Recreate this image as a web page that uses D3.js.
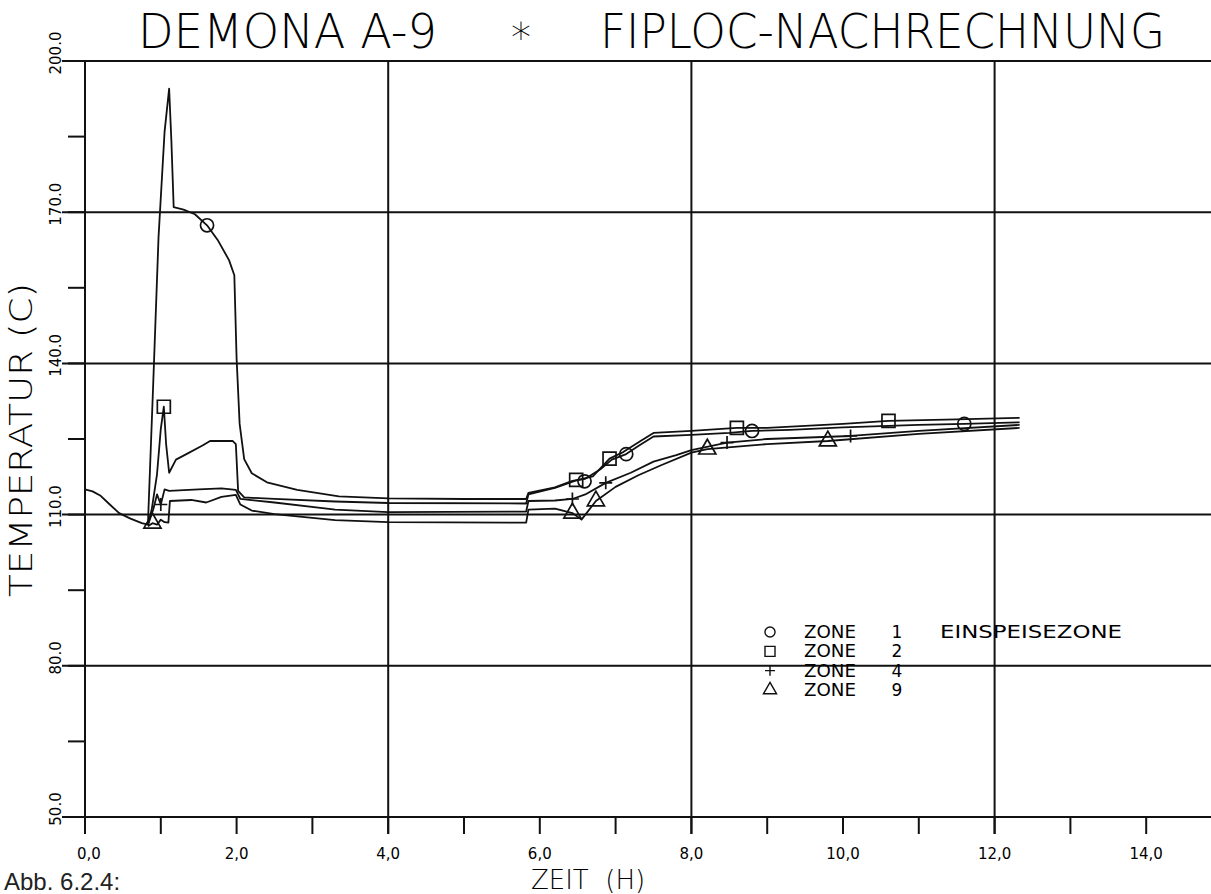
<!DOCTYPE html>
<html><head><meta charset="utf-8">
<script src="https://cdn.jsdelivr.net/npm/d3@7"></script>
<style>
html,body{margin:0;padding:0;background:#fff;}
svg{display:block;}
.plot{font-family:"DejaVu Sans",sans-serif;}
</style></head>
<body><svg id="chart" width="1211" height="894"></svg>
<script>
// ---------- data ----------
const title1 = "DEMONA A-9";
const title2 = "FIPLOC-NACHRECHNUNG";
const xLabel = "ZEIT  (H)";
const yLabel = "TEMPERATUR (C)";
const caption = "Abb. 6.2.4:";
const xTickValues = [0,1,2,3,4,5,6,7,8,9,10,11,12,13,14];
const xTickLabels = ["0,0","2,0","4,0","6,0","8,0","10,0","12,0","14,0"];
const xLabelValues = [0,2,4,6,8,10,12,14];
const xGridValues = [4,8,12];
const yTickValues = [50,65,80,95,110,125,140,155,170,185,200];
const yGridValues = [80,110,140,170,200];
const yLabelValues = [50,80,110,140,170,200];
const yTickLabels = ["50.0","80.0","110.0","140.0","170.0","200.0"];

const zone1 = [[0,115.0],[0.1,114.6],[0.2,113.8],[0.32,112.1],[0.45,110.3],[0.6,109.2],[0.75,108.3],[0.83,108.0],
 [0.9,136],[0.97,165],[1.05,186],[1.11,194.5],[1.14,184],[1.17,171],[1.3,170.5],[1.45,169.6],[1.61,167.4],
 [1.75,164.5],[1.9,160.5],[1.97,157.5],[2.0,141],[2.04,128],[2.1,121],[2.2,118.2],[2.4,116.4],[2.8,114.9],
 [3.35,113.6],[4.0,113.2],[5.0,113.1],[5.82,113.1],[5.85,114.3],[6.2,115.4],[6.43,116.7],[6.6,117.1],
 [6.8,119],[6.95,120.9],[7.14,122],[7.3,123.6],[7.5,125.5],[8.0,125.8],[8.5,126.2],[8.8,126.6],[9.3,126.8],
 [10.0,127.3],[11.0,127.8],[11.6,128.0],[12.33,128.3]];
const zone2 = [[0.83,108.0],[0.88,111],[0.95,118],[1.0,127],[1.04,131.4],[1.07,124],[1.11,118.3],[1.2,120.9],
 [1.35,122.1],[1.55,123.7],[1.65,124.6],[1.95,124.6],[1.99,124.0],[2.02,114.7],[2.1,113.4],[2.5,113.1],
 [3.3,112.6],[4.0,112.3],[5.82,112.2],[5.85,114.0],[6.2,115.3],[6.48,116.8],[6.7,117.6],[6.92,121.1],
 [7.1,122.4],[7.35,124.8],[7.5,126.2],[8.0,126.6],[8.6,127.2],[9.0,127.2],[9.5,127.6],[10.0,128.0],
 [10.6,128.6],[11.5,128.9],[12.33,129.2]];
const zone4 = [[0.83,107.9],[0.9,111],[0.95,114],[1.0,112],[1.05,115],[1.11,114.7],[1.5,115.0],[1.8,115.2],
 [1.99,114.9],[2.05,113.1],[2.5,112.4],[3.3,111.0],[4.0,110.5],[5.82,110.6],[5.85,112.7],[6.2,112.8],
 [6.43,113.1],[6.6,114.0],[6.87,116.3],[7.2,118.3],[7.5,120.5],[7.8,121.8],[8.0,122.8],[8.47,124.3],
 [9.0,125.0],[10.1,125.6],[11.0,126.6],[12.33,127.8]];
const zone9 = [[0.83,107.7],[0.89,108.3],[0.95,108.0],[1.0,109.0],[1.05,108.5],[1.1,108.4],[1.12,112.7],
 [1.4,112.9],[1.6,112.4],[1.8,113.5],[1.99,113.9],[2.05,112.0],[2.2,110.8],[2.5,110.1],[3.3,108.9],
 [4.0,108.5],[5.82,108.4],[5.85,111.0],[6.2,111.2],[6.43,110.3],[6.55,109.0],[6.74,112.7],[7.0,115.5],
 [7.3,117.8],[7.6,119.8],[8.0,122.3],[8.21,123.0],[9.0,124.0],[9.8,124.6],[11.0,126.0],[12.33,127.2]];

const zone1Markers = [[1.61,167.4],[6.59,116.6],[7.14,122.0],[8.8,126.6],[11.6,128.0]];
const zone2Markers = [[1.04,131.4],[6.48,116.9],[6.92,121.1],[8.6,127.2],[10.6,128.6]];
const zone4Markers = [[1.0,112],[6.43,113.1],[6.87,116.3],[8.47,124.3],[10.1,125.6]];
const zone9Markers = [[0.89,108.3],[6.43,110.3],[6.74,112.7],[8.21,123.0],[9.8,124.6]];

const legendSymbols = ["circle","square","plus","triangle"];
const legendZones = ["ZONE","ZONE","ZONE","ZONE"];
const legendNumbers = ["1","2","4","9"];
const legendNotes = ["EINSPEISEZONE","","",""];

// ---------- chart ----------
const svg = d3.select("#chart");
const W = 1211, H = 894;
const x = d3.scaleLinear().domain([0,15]).range([85, 85+15*75.8]);
const y = d3.scaleLinear().domain([50,200]).range([817, 61]);
const g = svg.append("g").attr("class","plot");
const ink = "#111";

// horizontal grid/frame lines
g.selectAll(".hgrid").data(yGridValues.concat([50])).join("line")
  .attr("x1", 62).attr("x2", W).attr("y1", d=>y(d)).attr("y2", d=>y(d))
  .attr("stroke", ink).attr("stroke-width", 2);
// minor y ticks
g.selectAll(".ytick").data(yTickValues).join("line")
  .attr("x1", x(0)-17).attr("x2", x(0)).attr("y1", d=>y(d)).attr("y2", d=>y(d))
  .attr("stroke", ink).attr("stroke-width", 2);
// y axis line
g.append("line").attr("x1", x(0)).attr("x2", x(0)).attr("y1", y(200)).attr("y2", y(50)+14)
  .attr("stroke", ink).attr("stroke-width", 2);
// vertical grid
g.selectAll(".vgrid").data(xGridValues).join("line")
  .attr("x1", d=>x(d)).attr("x2", d=>x(d)).attr("y1", y(200)).attr("y2", y(50)+17)
  .attr("stroke", ink).attr("stroke-width", 2);
// x ticks
g.selectAll(".xtick").data(xTickValues).join("line")
  .attr("x1", d=>x(d)).attr("x2", d=>x(d)).attr("y1", y(50)).attr("y2", y(50)+17)
  .attr("stroke", ink).attr("stroke-width", 2);

// x tick labels
g.selectAll(".xlab").data(xLabelValues).join("text")
  .attr("x", d=>x(d)+(d===0?4:0)).attr("y", 859)
  .attr("text-anchor","middle").attr("font-size", 15).attr("fill", "#000")
  .text((d,i)=>xTickLabels[i]);
// y tick labels (rotated)
g.selectAll(".ylab").data(yLabelValues).join("text")
  .attr("transform", d=>`translate(61,${y(d)-8}) rotate(-90)`)
  .attr("text-anchor","middle").attr("font-size", 15).attr("fill", "#000")
  .text((d,i)=>yTickLabels[i]);

// titles
g.append("text").attr("x",138).attr("y",48).attr("font-size",48).attr("font-weight",200).attr("fill","#000")
  .attr("textLength",299).attr("lengthAdjust","spacingAndGlyphs").text(title1);
g.append("text").attr("x",521).attr("y",52).attr("font-size",40).attr("font-weight",200).attr("fill","#000")
  .attr("text-anchor","middle").text("*");
g.append("text").attr("x",600).attr("y",48).attr("font-size",48).attr("font-weight",200).attr("fill","#000")
  .attr("textLength",565).attr("lengthAdjust","spacingAndGlyphs").text(title2);
g.append("text").attr("transform","translate(32,440) rotate(-90)").attr("text-anchor","middle")
  .attr("font-size",32).attr("font-weight",200).attr("fill","#000")
  .attr("textLength",314).attr("lengthAdjust","spacingAndGlyphs").text(yLabel);
g.append("text").attr("x",588).attr("y",889).attr("text-anchor","middle").attr("font-size",26)
  .attr("font-weight",200).attr("fill","#000").attr("xml:space","preserve").text(xLabel);
svg.append("text").attr("x",4).attr("y",890).attr("font-family","'Liberation Sans',Arial,sans-serif")
  .attr("font-size",24).attr("fill","#222").text(caption);

// lines
const line = d3.line().x(d=>x(d[0])).y(d=>y(d[1]));
const series = [zone1, zone2, zone4, zone9];
g.selectAll(".series").data(series).join("path")
  .attr("d", line).attr("fill","none").attr("stroke", ink).attr("stroke-width", 1.8)
  .attr("stroke-linejoin","round");

// markers
function symbolPath(type, s) {
  if (type==="circle") return d3.symbol(d3.symbolCircle, s*s*0.8)();
  if (type==="square") return d3.symbol(d3.symbolSquare, s*s)();
  if (type==="plus") return `M${-s/2},0H${s/2}M0,${-s/2}V${s/2}`;
  return d3.symbol(d3.symbolTriangle, s*s*0.75)();
}
const markerSets = [zone1Markers, zone2Markers, zone4Markers, zone9Markers];
markerSets.forEach((set, i) => {
  g.selectAll(".m"+i).data(set).join("path")
    .attr("transform", d=>`translate(${x(d[0])},${y(d[1])})`)
    .attr("d", symbolPath(legendSymbols[i], 13))
    .attr("fill","none").attr("stroke", ink).attr("stroke-width", 1.7);
});

// legend
const lg = g.append("g");
const rowY = d3.scaleLinear().domain([0,3]).range([632, 690]);
legendSymbols.forEach((s,i)=>{
  lg.append("path").attr("transform",`translate(770,${rowY(i)})`)
    .attr("d", symbolPath(s, 10)).attr("fill","none").attr("stroke",ink).attr("stroke-width",1.4);
  lg.append("text").attr("x",804).attr("y",rowY(i)+6).attr("font-size",17).attr("fill","#000")
    .attr("textLength",52).attr("lengthAdjust","spacingAndGlyphs").text(legendZones[i]);
  lg.append("text").attr("x",897).attr("y",rowY(i)+6).attr("font-size",17).attr("fill","#000")
    .attr("text-anchor","middle").text(legendNumbers[i]);
  if (legendNotes[i]) lg.append("text").attr("x",940).attr("y",rowY(i)+6).attr("font-size",17)
    .attr("fill","#000").attr("textLength",182).attr("lengthAdjust","spacingAndGlyphs").text(legendNotes[i]);
});
</script></body></html>
